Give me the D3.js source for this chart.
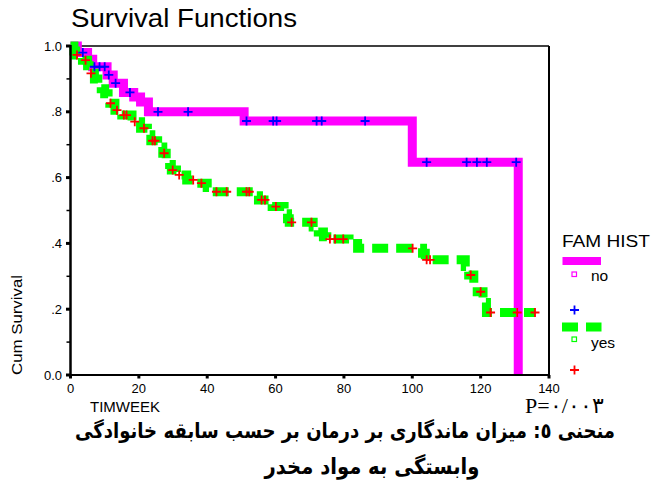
<!DOCTYPE html>
<html><head><meta charset="utf-8">
<script src="https://cdn.jsdelivr.net/npm/d3@7"></script>
<style>body{margin:0;background:#fff}svg{display:block}</style>
</head><body><svg id="c" width="652" height="504"></svg>
<script>
// ---- data ----
const noTimes = [0, 2, 5, 6.5, 10.7, 12.5, 15.5, 18.5, 20.5, 22.8, 50.8, 100, 131];
const noSurv  = [1, 0.98, 0.96, 0.937, 0.912, 0.887, 0.859, 0.845, 0.83, 0.80, 0.772, 0.647, 0];
const noCensor = [3.6, 7, 8.5, 10, 11.2, 13.2, 17.4, 25.6, 34.4, 51.5, 59.3, 60.3, 72, 73.5, 86.2, 104.2, 115.9, 118.9, 121.8, 130.4];

const yesTimes = [0, 1, 1.5, 3.5, 5, 5.5, 7, 8, 9, 10, 11, 11.5, 13, 15, 18, 20.5, 22.5, 23.5, 25.5, 27, 28, 29, 29.5, 31, 34, 37, 40, 41, 53.5, 55, 58, 59, 62.5, 63.5, 64, 71, 72.5, 74, 75, 81.5, 84, 103, 103.8, 115.5, 116.5, 118, 119, 120.7, 121.7, 136];
const yesSurv  = [1, 0.985, 0.973, 0.957, 0.94, 0.917, 0.90, 0.885, 0.87, 0.855, 0.84, 0.826, 0.805, 0.79, 0.77, 0.75, 0.73, 0.712, 0.693, 0.674, 0.655, 0.64, 0.623, 0.608, 0.593, 0.583, 0.57, 0.557, 0.545, 0.532, 0.52, 0.512, 0.49, 0.475, 0.464, 0.45, 0.435, 0.42, 0.413, 0.40, 0.385, 0.37, 0.35, 0.33, 0.304, 0.28, 0.253, 0.22, 0.19, 0.19];
const yesCensor = [1.9, 4.4, 6.0, 11.7, 13.6, 15.6, 16.4, 18.8, 21.5, 24.0, 24.7, 27.4, 29.9, 31.8, 35.9, 38.3, 42.7, 45.7, 51.5, 52.3, 55.9, 56.9, 60.1, 64.7, 70.5, 75.9, 77.4, 79.8, 100.1, 104.2, 105.2, 117.1, 120.0, 122.9, 130.7, 135.9];

const xTicks = [0, 20, 40, 60, 80, 100, 120, 140];
const yTicks = [0, 0.2, 0.4, 0.6, 0.8, 1.0];
const yTickLabels = ["0.0", ".2", ".4", ".6", ".8", "1.0"];
const yMinor = [0.1, 0.3, 0.5, 0.7, 0.9];
const groups = ["no", "yes"];
const legendTitle = "FAM HIST";
const title = "Survival Functions";
const xTitle = "TIMWEEK";
const yTitle = "Cum Survival";
const pText = "P=۰/۰۰۳";
const caption1 = "منحنی ٥: میزان ماندگاری بر درمان بر حسب سابقه خانوادگی";
const caption2 = "وابستگی به مواد مخدر";

// ---- drawing ----
const svg = d3.select("#c");
const x = d3.scaleLinear().domain([0, 140]).range([70.5, 549]);
const y = d3.scaleLinear().domain([0, 1]).range([375, 46]);
const sans = "'Liberation Sans', Arial, sans-serif";

function survAt(times, surv, t) {
  let v = surv[0];
  for (let i = 0; i < times.length; i++) if (times[i] <= t) v = surv[i];
  return v;
}

// frame
svg.append("line").attr("x1", x(0)).attr("x2", x(140)).attr("y1", y(1)).attr("y2", y(1)).attr("stroke", "#000").attr("stroke-width", 1.5);
svg.append("line").attr("x1", x(140)).attr("x2", x(140)).attr("y1", y(1)).attr("y2", y(0)).attr("stroke", "#000").attr("stroke-width", 2);

const line = d3.line().x(d => x(d[0])).y(d => y(d[1])).curve(d3.curveStepAfter);
const noData = noTimes.map((t, i) => [t, noSurv[i]]);
const yesData = yesTimes.map((t, i) => [t, yesSurv[i]]);

svg.append("path").attr("d", line(noData)).attr("fill", "none")
  .attr("stroke", "#ff00ff").attr("stroke-width", 9).attr("stroke-linejoin", "miter");
svg.append("path").attr("d", line(yesData)).attr("fill", "none")
  .attr("stroke", "#00ff00").attr("stroke-width", 9).attr("stroke-dasharray", "16,8").attr("stroke-linejoin", "miter");

function plus(g, cx, cy, color) {
  g.append("path").attr("d", `M${cx - 4.5},${cy}H${cx + 4.5}M${cx},${cy - 4.5}V${cy + 4.5}`)
    .attr("stroke", color).attr("stroke-width", 1.8).attr("fill", "none");
}
const marks = svg.append("g");
noCensor.forEach(t => plus(marks, x(t), y(survAt(noTimes, noSurv, t)), "#0000ff"));
yesCensor.forEach(t => plus(marks, x(t), y(survAt(yesTimes, yesSurv, t)), "#ff0000"));

// axes
svg.append("line").attr("x1", x(0)).attr("x2", x(0)).attr("y1", y(1) - 1).attr("y2", y(0) + 1).attr("stroke", "#000").attr("stroke-width", 2.5);
svg.append("line").attr("x1", x(0) - 1).attr("x2", x(140) + 1).attr("y1", y(0)).attr("y2", y(0)).attr("stroke", "#000").attr("stroke-width", 2.2);

yTicks.forEach((v, i) => {
  svg.append("line").attr("x1", x(0) - 4.5).attr("x2", x(0)).attr("y1", y(v)).attr("y2", y(v)).attr("stroke", "#000").attr("stroke-width", 3);
  svg.append("text").attr("x", 62).attr("y", y(v) + 4.5).attr("text-anchor", "end")
    .attr("font-family", sans).attr("font-size", 13).text(yTickLabels[i]);
});
yMinor.forEach(v => {
  svg.append("line").attr("x1", x(0) - 4).attr("x2", x(0)).attr("y1", y(v)).attr("y2", y(v)).attr("stroke", "#000").attr("stroke-width", 1.5);
});
xTicks.forEach(v => {
  svg.append("line").attr("x1", x(v)).attr("x2", x(v)).attr("y1", y(0)).attr("y2", y(0) + 3.5).attr("stroke", "#000").attr("stroke-width", 3);
  svg.append("text").attr("x", x(v)).attr("y", 393).attr("text-anchor", "middle")
    .attr("font-family", sans).attr("font-size", 13).text(v);
});

// titles
svg.append("text").attr("x", 71).attr("y", 27).attr("font-family", sans).attr("font-size", 26)
  .attr("textLength", 226).attr("lengthAdjust", "spacingAndGlyphs").text(title);
svg.append("text").attr("transform", "translate(21.5,325) rotate(-90)").attr("text-anchor", "middle")
  .attr("font-family", sans).attr("font-size", 14).attr("textLength", 100).attr("lengthAdjust", "spacingAndGlyphs").text(yTitle);
svg.append("text").attr("x", 90).attr("y", 412).attr("font-family", sans).attr("font-size", 15).text(xTitle);

// legend
svg.append("text").attr("x", 562).attr("y", 246.5).attr("font-family", sans).attr("font-size", 16)
  .attr("textLength", 88).attr("lengthAdjust", "spacingAndGlyphs").text(legendTitle);
svg.append("line").attr("x1", 562.5).attr("x2", 601).attr("y1", 261).attr("y2", 261).attr("stroke", "#ff00ff").attr("stroke-width", 8);
svg.append("rect").attr("x", 572).attr("y", 272).attr("width", 4.5).attr("height", 4.5).attr("fill", "none").attr("stroke", "#ff00ff").attr("stroke-width", 1.2);
svg.append("text").attr("x", 591).attr("y", 280.5).attr("font-family", sans).attr("font-size", 15.5).text(groups[0]);
plus(svg, 574.5, 310, "#0000ff");
svg.append("line").attr("x1", 562).attr("x2", 601.5).attr("y1", 327).attr("y2", 327).attr("stroke", "#00ff00").attr("stroke-width", 9).attr("stroke-dasharray", "16,8");
svg.append("rect").attr("x", 572).attr("y", 337).attr("width", 4.5).attr("height", 4.5).attr("fill", "none").attr("stroke", "#00ff00").attr("stroke-width", 1.2);
svg.append("text").attr("x", 591).attr("y", 347.5).attr("font-family", sans).attr("font-size", 15.5).text(groups[1]);
plus(svg, 574.5, 370, "#ff0000");

// annotations
svg.append("text").attr("x", 525).attr("y", 413).attr("font-family", "'Liberation Serif', 'DejaVu Serif', serif").attr("font-size", 22).text(pText);
svg.append("text").attr("x", 345).attr("y", 438).attr("text-anchor", "middle").attr("direction", "rtl")
  .attr("font-family", "'DejaVu Sans', sans-serif").attr("font-weight", "bold").attr("font-size", 21)
  .attr("textLength", 540).attr("lengthAdjust", "spacingAndGlyphs").text(caption1);
svg.append("text").attr("x", 372).attr("y", 474).attr("text-anchor", "middle").attr("direction", "rtl")
  .attr("font-family", "'DejaVu Sans', sans-serif").attr("font-weight", "bold").attr("font-size", 22)
  .attr("textLength", 215).attr("lengthAdjust", "spacingAndGlyphs").text(caption2);
svg.append("text").attr("x", 585).attr("y", -4).attr("text-anchor", "middle").attr("font-family", "'DejaVu Sans', sans-serif")
  .attr("font-weight", "bold").attr("font-size", 22).text("ی");
</script></body></html>
